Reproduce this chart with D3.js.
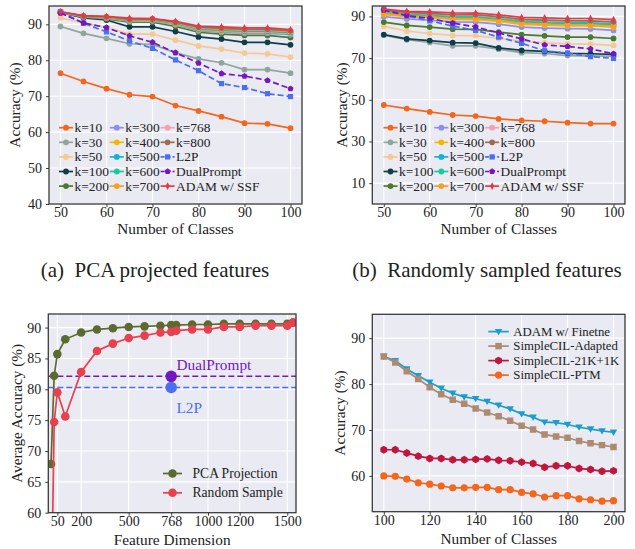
<!DOCTYPE html>
<html><head><meta charset="utf-8">
<script src="https://cdn.jsdelivr.net/npm/d3@7"></script>
<style>
body{margin:0;background:#fff}
svg{display:block}
text{font-family:"Liberation Serif","Times New Roman",serif;fill:#222}
</style>
</head><body>
<svg id="chart" width="635" height="549"></svg>
<script>
// ---------------- DATA ----------------
const classesAB = [50,55,60,65,70,75,80,85,90,95,100];
const legendNamesAB = ["k=10","k=30","k=50","k=100","k=200","k=300","k=400","k=500","k=600","k=700","k=768","k=800","L2P","DualPrompt","ADAM w/ SSF"];

// (a) PCA projected features
const pcaK10  = [76.4,74.1,72.1,70.4,69.9,67.4,65.9,64.3,62.5,62.3,61.1];
const pcaK30  = [89.4,87.5,86.1,84.6,84.4,82.1,80.4,79.3,77.4,77.4,76.4];
const pcaK50  = [91.8,90.4,89.1,87.3,87.3,85.6,84.0,83.1,82.0,81.8,80.9];
const pcaK100 = [93.3,91.8,91.2,89.3,89.3,88.0,86.5,85.9,85.0,85.0,84.3];
const pcaK200 = [93.3,92.0,91.5,90.6,90.6,89.4,87.8,87.3,86.9,86.9,86.3];
const pcaK300 = [93.3,92.1,91.7,90.8,90.9,89.9,88.2,87.8,87.5,87.5,87.1];
const pcaK400 = [93.4,92.2,91.8,91.0,91.1,90.1,88.5,88.1,87.9,87.9,87.5];
const pcaK500 = [93.4,92.2,91.9,91.1,91.2,90.3,88.7,88.4,88.1,88.1,87.7];
const pcaK600 = [93.4,92.3,92.0,91.2,91.3,90.4,88.9,88.6,88.3,88.3,87.9];
const pcaK700 = [93.5,92.3,92.0,91.3,91.4,90.5,89.0,88.7,88.4,88.4,88.0];
const pcaK768 = [93.5,92.3,92.1,91.4,91.5,90.6,89.1,88.8,88.5,88.5,88.1];
const pcaK800 = [93.5,92.3,92.1,91.4,91.5,90.6,89.2,88.9,88.6,88.6,88.2];
const l2pAcc        = [93.5,90.3,87.9,85.4,83.3,80.1,77.1,73.5,72.4,70.7,69.9];
const dualPromptAcc = [93.1,90.4,89.1,86.8,85.0,82.1,79.2,76.3,75.6,74.4,72.1];
const adamSSFAcc    = [93.5,92.4,92.2,91.7,91.6,90.8,89.5,89.3,89.0,89.0,88.5];

// (b) Randomly sampled features
const rndK10  = [47.5,45.8,44.2,42.7,42.2,40.8,40.1,39.7,39.0,38.6,38.6];
const rndK30  = [81.0,78.8,77.5,75.9,75.9,74.3,72.6,72.2,71.2,71.1,70.9];
const rndK50  = [85.2,83.0,81.8,80.9,80.8,79.4,78.2,77.3,76.8,76.7,76.1];
const rndK100 = [81.3,79.2,78.4,77.4,77.2,74.9,73.7,73.2,72.3,72.1,71.8];
const rndK200 = [87.3,85.7,84.9,83.9,83.8,82.5,81.3,80.7,80.1,80.1,79.4];
const rndK300 = [89.9,88.8,88.2,87.4,87.3,86.3,84.9,84.4,84.1,84.0,83.3];
const rndK400 = [90.9,89.9,89.4,88.6,88.5,87.6,86.2,85.8,85.5,85.4,84.8];
const rndK500 = [91.8,90.8,90.3,89.5,89.5,88.6,87.3,86.8,86.6,86.5,85.9];
const rndK600 = [92.3,91.2,90.8,90.0,90.0,89.1,87.8,87.3,87.1,87.0,86.4];
const rndK700 = [91.3,90.3,89.8,89.0,89.0,88.1,86.8,86.3,86.0,85.9,85.3];
const rndK768 = [92.8,91.7,91.3,90.6,90.6,89.7,88.4,88.0,87.8,87.7,87.2];
const rndK800 = [93.0,91.9,91.5,90.8,90.8,89.9,88.6,88.2,88.0,87.9,87.4];

// (c) Feature dimension
const featureDims = [10,30,50,100,200,300,400,500,600,700,768,800,900,1000,1100,1200,1300,1400,1500,1536];
const pcaAvgAcc    = [67.9,82.2,85.7,88.1,89.2,89.7,89.9,90.1,90.2,90.3,90.4,90.4,90.5,90.5,90.6,90.6,90.6,90.6,90.6,90.8];
const randomAvgAcc = [41.7,74.7,79.5,75.6,82.8,86.2,87.4,88.3,88.7,89.2,89.3,89.5,89.7,89.7,90.1,90.1,90.3,90.3,90.3,90.8];
const dualPromptAvg = 82.1;
const l2pAvg = 80.3;
const refDim = 768;
const dimTicks = [50,200,500,768,1000,1200,1500];

// (d) SimpleCIL comparison
const classesD = [100,105,110,115,120,125,130,135,140,145,150,155,160,165,170,175,180,185,190,195,200];
const adamFinetne    = [86.0,85.1,83.3,81.8,80.4,79.1,78.0,77.2,76.8,76.2,75.4,74.6,73.5,72.8,71.7,71.6,71.2,70.6,70.2,69.8,69.5];
const simpleAdapted  = [86.0,84.7,82.8,81.1,79.3,77.8,76.6,75.7,74.7,73.8,73.0,72.0,70.9,70.1,69.0,68.6,68.3,67.6,67.1,66.7,66.3];
const simple21k1k    = [65.7,65.7,65.0,64.3,63.8,63.8,63.5,63.5,63.6,63.7,63.4,63.3,63.0,62.7,61.9,62.2,62.2,61.6,61.4,61.0,61.1];
const simplePTM      = [60.0,59.9,59.3,58.5,58.2,57.8,57.4,57.4,57.5,57.5,57.0,57.0,56.4,56.1,55.4,55.7,55.7,55.0,54.8,54.5,54.6];
const legendNamesD = ["ADAM w/ Finetne","SimpleCIL-Adapted","SimpleCIL-21K+1K","SimpleCIL-PTM"];

// ---------------- STYLE ----------------
const BG = "#eaeaf2", SPINE = "#3a3a3a";
const colorsAB = ["#f4661b","#8ea69c","#f4c992","#113c4a","#4b7a2e","#8d8ef2","#f2b705","#13b1d8","#19c99d","#f6a01e","#f5a1b3","#9d6b4f","#4a6ff0","#7417c0","#e63946"];
const markersAB = ["circle","circle","circle","circle","circle","circle","circle","circle","circle","circle","circle","circle","square","pentagon","thindiamond"];

function markerPath(type, r){
  const p = d3.path();
  if(type==="circle"){ p.arc(0,0,r,0,2*Math.PI); }
  else if(type==="square"){ const s=r*0.9; p.rect(-s,-s,2*s,2*s); }
  else if(type==="triDown"){ p.moveTo(0,r*1.0); p.lineTo(-r*1.05,-r*0.75); p.lineTo(r*1.05,-r*0.75); p.closePath(); }
  else if(type==="thindiamond"){ p.moveTo(0,-r*1.35); p.lineTo(r*0.7,0); p.lineTo(0,r*1.35); p.lineTo(-r*0.7,0); p.closePath(); }
  else { const n = type==="pentagon"?5:6; for(let i=0;i<n;i++){ const a=-Math.PI/2+i*2*Math.PI/n; const x=r*1.1*Math.cos(a), y=r*1.1*Math.sin(a); if(i===0)p.moveTo(x,y); else p.lineTo(x,y);} p.closePath(); }
  return p.toString();
}

const svg = d3.select("#chart");
let clipId = 0;

function panel(o){
  const g = svg.append("g");
  const x = d3.scaleLinear().domain(o.xd).range([o.L,o.R]);
  const y = d3.scaleLinear().domain(o.yd).range([o.B,o.T]);
  g.append("rect").attr("x",o.L).attr("y",o.T).attr("width",o.R-o.L).attr("height",o.B-o.T).attr("fill",BG);
  // grid
  g.selectAll(".gx").data(o.xt).enter().append("line").attr("x1",d=>x(d)).attr("x2",d=>x(d)).attr("y1",o.T).attr("y2",o.B).attr("stroke","#fff").attr("stroke-width",1.1);
  g.selectAll(".gy").data(o.yt).enter().append("line").attr("y1",d=>y(d)).attr("y2",d=>y(d)).attr("x1",o.L).attr("x2",o.R).attr("stroke","#fff").attr("stroke-width",1.1);
  // axes
  const ax = g.append("g").attr("transform",`translate(0,${o.B})`).call(d3.axisBottom(x).tickValues(o.xt).tickFormat(d3.format("d")).tickSize(3).tickSizeOuter(0).tickPadding(2));
  ax.select(".domain").remove();
  ax.selectAll("line").attr("stroke",SPINE);
  ax.selectAll("text").attr("font-size",14).attr("fill","#222").attr("dy",null).attr("y",13.3);
  const ay = g.append("g").attr("transform",`translate(${o.L},0)`).call(d3.axisLeft(y).tickValues(o.yt).tickFormat(d3.format("d")).tickSize(3).tickSizeOuter(0).tickPadding(4));
  ay.select(".domain").remove();
  ay.selectAll("line").attr("stroke",SPINE);
  ay.selectAll("text").attr("font-size",14).attr("fill","#222");
  // labels
  g.append("text").attr("x",(o.L+o.R)/2).attr("y",o.B+o.xlabDy).attr("text-anchor","middle").attr("font-size",15.3).text(o.xlab);
  g.append("text").attr("transform",`translate(${o.ylabX},${(o.T+o.B)/2}) rotate(-90)`).attr("text-anchor","middle").attr("font-size",15.3).text(o.ylab);
  // clip
  const id = "clip"+(clipId++);
  svg.append("clipPath").attr("id",id).append("rect").attr("x",o.L).attr("y",o.T).attr("width",o.R-o.L).attr("height",o.B-o.T);
  const plot = g.append("g").attr("clip-path",`url(#${id})`);
  const frame = () => g.append("rect").attr("x",o.L).attr("y",o.T).attr("width",o.R-o.L).attr("height",o.B-o.T).attr("fill","none").attr("stroke",SPINE).attr("stroke-width",1.3);
  return {g,x,y,plot,frame};
}

function drawSeries(P, xs, vals, color, marker, r, lw, dash){
  const line = d3.line().x((d,i)=>P.x(xs[i])).y(d=>P.y(d));
  P.plot.append("path").datum(vals).attr("d",line).attr("fill","none").attr("stroke",color).attr("stroke-width",lw).attr("stroke-dasharray",dash||null);
  P.plot.selectAll(null).data(vals).enter().append("path").attr("d",markerPath(marker,r))
    .attr("transform",(d,i)=>`translate(${P.x(xs[i])},${P.y(d)})`).attr("fill",color);
}

function legendEntry(g, x0, yc, len, color, marker, r, lw, dash, label, fs, textGap){
  g.append("line").attr("x1",x0).attr("x2",x0+len).attr("y1",yc).attr("y2",yc).attr("stroke",color).attr("stroke-width",lw).attr("stroke-dasharray",dash||null);
  g.append("path").attr("d",markerPath(marker,r)).attr("transform",`translate(${x0+len/2},${yc})`).attr("fill",color);
  g.append("text").attr("x",x0+len+textGap).attr("y",yc).attr("dy","0.34em").attr("font-size",fs).text(label);
}

// ---------- Panels (a) and (b) ----------
const seriesA = [pcaK10,pcaK30,pcaK50,pcaK100,pcaK200,pcaK300,pcaK400,pcaK500,pcaK600,pcaK700,pcaK768,pcaK800,l2pAcc,dualPromptAcc,adamSSFAcc];
const seriesB = [rndK10,rndK30,rndK50,rndK100,rndK200,rndK300,rndK400,rndK500,rndK600,rndK700,rndK768,rndK800,l2pAcc,dualPromptAcc,adamSSFAcc];

function panelAB(series, L, R, yd, yt, ylabX, legX){
  const P = panel({L,R,T:6,B:204,xd:[47.5,102.5],yd,xt:[50,60,70,80,90,100],yt,xlab:"Number of Classes",ylab:"Accuracy (%)",xlabDy:29.5,ylabX});
  series.forEach((vals,i)=>{
    const dash = (i===12||i===13)?"6,3":null;
    drawSeries(P, classesAB, vals, colorsAB[i], markersAB[i], 2.9, 1.7, dash);
  });
  const rows=[127.7,142.3,156.9,171.5,186.1];
  legendNamesAB.forEach((nm,i)=>{
    const c=Math.floor(i/5), rI=i%5;
    const dash = (i===12||i===13)?"4,2":null;
    legendEntry(P.g, legX + c*50.8, rows[rI], 14, colorsAB[i], markersAB[i], 2.9, 1.7, dash, nm, 13.4, 1.5);
  });
  P.frame();
}
panelAB(seriesA, 49, 302, [40,95.1], [40,50,60,70,80,90], 20, 59);
panelAB(seriesB, 372.3, 625, [0,95], [10,30,50,70,90], 346.5, 383.5);

svg.append("text").attr("x",155).attr("y",277).attr("text-anchor","middle").attr("font-size",21).attr("xml:space","preserve").text("(a)  PCA projected features");
svg.append("text").attr("x",487).attr("y",277).attr("text-anchor","middle").attr("font-size",21).attr("xml:space","preserve").text("(b)  Randomly sampled features");

// ---------- Panel (c) ----------
{
  const P = panel({L:48.3,R:296,T:314,B:512.7,xd:[-7,1555],yd:[60,92.2],xt:dimTicks,yt:[60,65,70,75,80,85,90],xlab:"Feature Dimension",ylab:"Average Accuracy (%)",xlabDy:32,ylabX:21.5});
  const cDual="#7417c0", cL2P="#4a6ff0", cPCA="#5b6b30", cRnd="#e8404e";
  [[dualPromptAvg,cDual],[l2pAvg,cL2P]].forEach(([v,c])=>{
    P.plot.append("line").attr("x1",P.x(-7)).attr("x2",P.x(1555)).attr("y1",P.y(v)).attr("y2",P.y(v)).attr("stroke",c).attr("stroke-width",1.5).attr("stroke-dasharray","6,3");
  });
  drawSeries(P, featureDims, pcaAvgAcc, cPCA, "circle", 4.3, 1.7);
  drawSeries(P, featureDims, randomAvgAcc, cRnd, "circle", 4.3, 1.7);
  P.plot.append("circle").attr("cx",P.x(refDim)).attr("cy",P.y(dualPromptAvg)).attr("r",5.8).attr("fill",cDual);
  P.plot.append("circle").attr("cx",P.x(refDim)).attr("cy",P.y(l2pAvg)).attr("r",5.8).attr("fill",cL2P);
  P.g.append("text").attr("x",176.5).attr("y",370).attr("font-size",15.3).style("fill",cDual).text("DualPrompt");
  P.g.append("text").attr("x",176.5).attr("y",412.5).attr("font-size",15.3).style("fill",cL2P).text("L2P");
  legendEntry(P.g, 163, 473.5, 19, cPCA, "circle", 4.3, 1.7, null, "PCA Projection", 13.6, 10.5);
  legendEntry(P.g, 163, 492.8, 19, cRnd, "circle", 4.3, 1.7, null, "Random Sample", 13.6, 10.5);
  P.frame();
}

// ---------- Panel (d) ----------
{
  const P = panel({L:372.3,R:625,T:314.3,B:511.7,xd:[95,205],yd:[52.2,95.2],xt:[100,120,140,160,180,200],yt:[60,70,80,90],xlab:"Number of Classes",ylab:"Accuracy (%)",xlabDy:32.5,ylabX:345});
  const seriesD = [adamFinetne, simpleAdapted, simple21k1k, simplePTM];
  const colorsD = ["#1b9dcc","#ad8a72","#c0163d","#f4661b"];
  const markersD = ["triDown","square","hexagon","circle"];
  seriesD.forEach((v,i)=>drawSeries(P, classesD, v, colorsD[i], markersD[i], 3.6, 1.7));
  legendNamesD.forEach((nm,i)=>legendEntry(P.g, 488.3, 331.6+14.5*i, 20.5, colorsD[i], markersD[i], 3.6, 1.7, null, nm, 12.8, 4.5));
  P.frame();
}
</script>
</body></html>
